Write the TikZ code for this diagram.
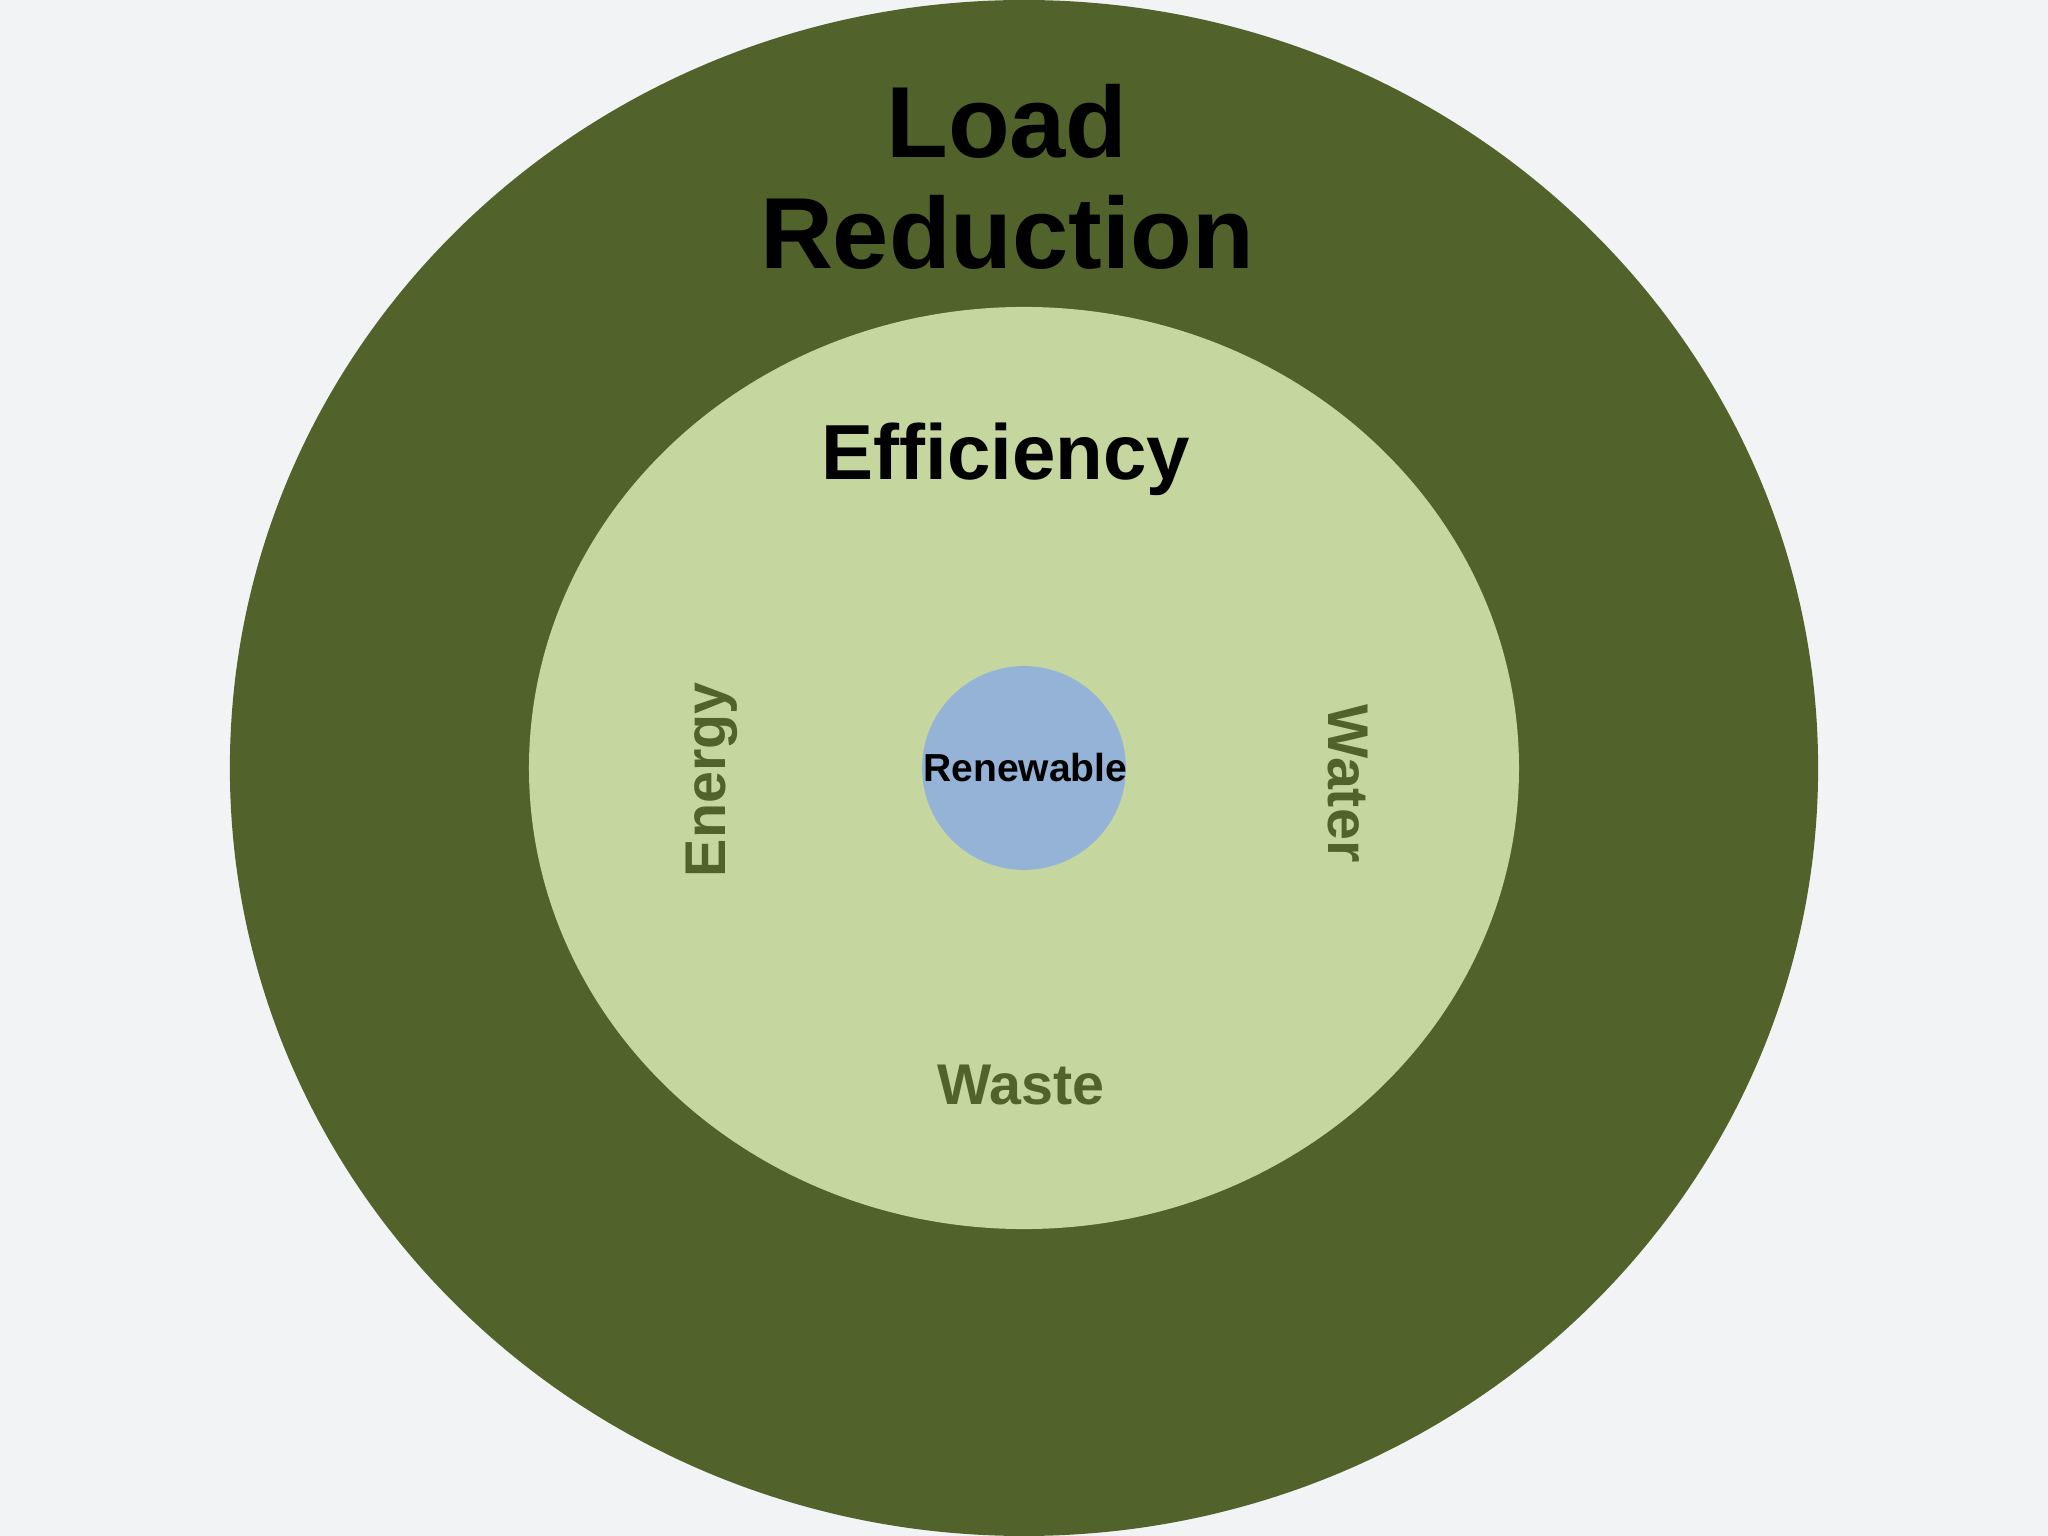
\documentclass[tikz,border=0pt]{standalone}
\usepackage{fontspec}
\setmainfont{Liberation Sans}
\definecolor{bgc}{HTML}{F2F3F4}
\definecolor{darkg}{HTML}{52622B}
\definecolor{lightg}{HTML}{C5D69F}
\definecolor{bluec}{HTML}{95B3D7}
\tikzset{lbl/.style={font=\bfseries, inner sep=0pt}}
\begin{document}
\begin{tikzpicture}[x=0.01cm,y=-0.01cm]
\fill[bgc] (0,0) rectangle (1568,1176);
\useasboundingbox (0,0) rectangle (1568,1176);
\fill[darkg] (784,588) ellipse [x radius=608, y radius=588];
\fill[lightg] (784,588) ellipse [x radius=379, y radius=353];
\fill[bluec] (784,588) circle [radius=78];
\node[lbl,font=\fontsize{22}{25}\selectfont\bfseries] (load) at (771,93) {Load};
\node[lbl,font=\fontsize{22}{25}\selectfont\bfseries] (red) at (771,178) {Reduction};
\node[lbl,font=\fontsize{17}{20}\selectfont\bfseries] (eff) at (770,352) {Efficiency};
\node[lbl,font=\fontsize{12.5}{15}\selectfont\bfseries,text=darkg,rotate=90] (en) at (545,597) {Energy};
\node[lbl,font=\fontsize{12.5}{15}\selectfont\bfseries,text=darkg,rotate=-90] (wa) at (1032,600) {Water};
\node[lbl,font=\fontsize{12.5}{15}\selectfont\bfseries,text=darkg] (ws) at (782,831) {Waste};
\node[lbl,font=\fontsize{8.5}{10}\selectfont\bfseries] (ren) at (785,588) {Renewable};
\end{tikzpicture}
\end{document}
